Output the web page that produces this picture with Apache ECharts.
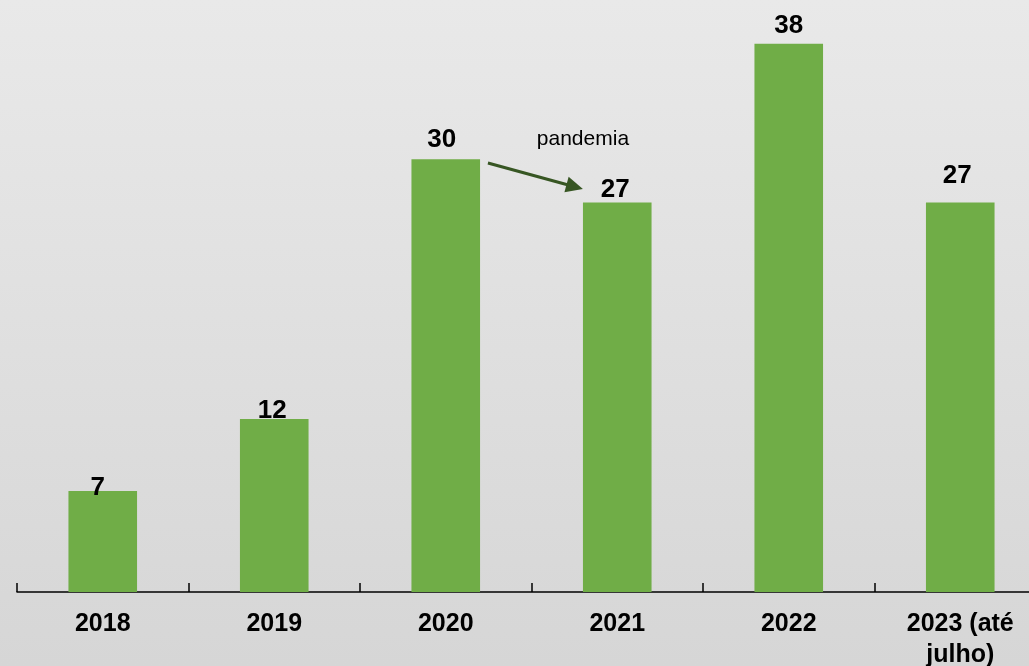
<!DOCTYPE html>
<html>
<head>
<meta charset="utf-8">
<script src="https://cdn.jsdelivr.net/npm/echarts@6/dist/echarts.min.js"></script>
<style>
html,body{margin:0;padding:0;}
#chart{width:1029px;height:666px;}
</style>
</head>
<body>
<div id="chart"></div>
<script>
// ---- data ----
const categories = ['2018', '2019', '2020', '2021', '2022', '2023 (até\njulho)'];
const values = [7, 12, 30, 27, 38, 27];
const annotationText = 'pandemia';
// arrow endpoints in data space (x: category index units, y: value)
const arrowFrom = [2.746, 29.74];
const arrowTo = [3.252, 28.09];
const annotationAt = [3.30, 31.40];

// ---- label placement (gap between bar top and label centre, horizontal nudge) ----
const labelGaps = [3, 8, 19, 13, 18, 27];
const labelShifts = [-5, -2, -4, -2, 0, -3];

const barData = values.map((v, i) => ({
  value: v,
  label: { distance: labelGaps[i], offset: [labelShifts[i], 0] }
}));

const chart = echarts.init(document.getElementById('chart'));
chart.setOption({
  animation: false,
  backgroundColor: {
    type: 'linear', x: 0, y: 0, x2: 0, y2: 1,
    colorStops: [{ offset: 0, color: '#e9e9e9' }, { offset: 1, color: '#d6d6d6' }]
  },
  grid: { left: 17, width: 1029, top: 15, height: 577, containLabel: false, outerBoundsMode: 'none' },
  xAxis: [{
    type: 'category',
    data: categories,
    axisLine: { show: true, lineStyle: { color: '#000', width: 1.5 } },
    axisTick: { show: true, inside: true, length: 9, alignWithLabel: false, lineStyle: { color: '#000', width: 1.5 } },
    axisLabel: {
      color: '#000', fontFamily: 'Liberation Sans, Arial, sans-serif', fontWeight: 'bold',
      fontSize: 25, lineHeight: 31, margin: 17, interval: 0, hideOverlap: false
    }
  }, {
    type: 'value', min: 0, max: 6, show: false
  }],
  yAxis: {
    type: 'value', min: 0, max: 40, show: false
  },
  series: [{
    type: 'bar',
    data: barData,
    barWidth: '40%',
    itemStyle: { color: '#70ad47' },
    label: {
      show: true, position: 'top', verticalAlign: 'middle',
      color: '#000', fontFamily: 'Liberation Sans, Arial, sans-serif', fontWeight: 'bold', fontSize: 26
    }
  }, {
    type: 'line',
    xAxisIndex: 1,
    data: [],
    silent: true,
    markLine: {
      silent: true,
      symbol: ['none', 'triangle'],
      symbolSize: [16, 17],
      label: { show: false },
      lineStyle: { color: '#375623', width: 3, type: 'solid' },
      data: [[{ coord: arrowFrom }, { coord: arrowTo }]]
    },
    markPoint: {
      silent: true,
      symbol: 'circle',
      symbolSize: 0,
      label: {
        show: true, position: 'inside', formatter: annotationText,
        color: '#000', fontFamily: 'Liberation Sans, Arial, sans-serif', fontSize: 21
      },
      data: [{ coord: annotationAt }]
    }
  }]
});
</script>
</body>
</html>
